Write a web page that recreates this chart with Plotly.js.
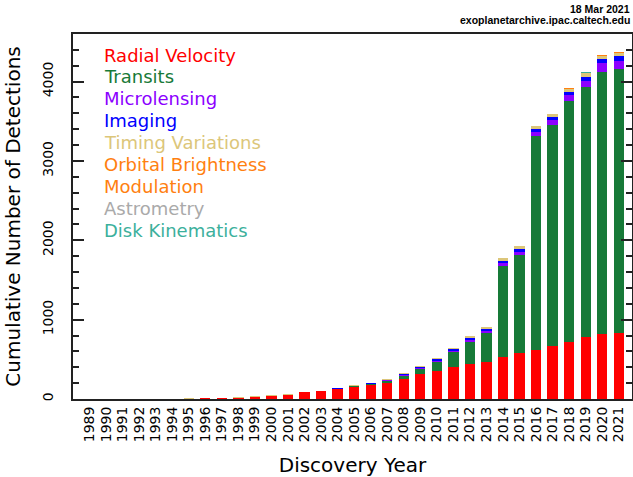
<!DOCTYPE html>
<html>
<head>
<meta charset="utf-8">
<script src="https://cdn.plot.ly/plotly-3.0.1.min.js"></script>
<style>
  html, body { margin: 0; padding: 0; background: #ffffff; }
  #chart { width: 633px; height: 477px; }
</style>
</head>
<body>
<div id="chart"></div>
<script>
// Discovery years (x categories)
const years = [1989,1990,1991,1992,1993,1994,1995,1996,1997,1998,1999,2000,2001,2002,2003,2004,2005,2006,2007,2008,2009,2010,2011,2012,2013,2014,2015,2016,2017,2018,2019,2020,2021];
const yearLabels = years.map(String);

// Cumulative number of detections by method
const radialVelocity = [1,1,1,1,1,1,3,9,10,17,29,42,55,84,100,122,148,173,206,248,319,357,404,445,470,526,576,618,668,715,778,823,828];
const transits       = [0,0,0,0,0,0,0,0,0,0,0,0,0,1,1,6,10,15,21,42,59,110,189,274,362,1155,1244,2702,2791,3037,3148,3304,3330];
const microlensing   = [0,0,0,0,0,0,0,0,0,0,0,0,0,0,1,3,5,7,8,11,12,14,16,20,22,28,30,43,55,73,88,106,108];
const imaging        = [0,0,0,0,0,0,0,0,0,0,0,0,0,0,0,3,5,6,10,15,16,20,22,30,30,35,42,42,42,44,50,50,51];
const timingVar      = [0,0,0,2,3,4,4,4,4,4,4,4,4,4,4,5,5,5,7,8,10,12,15,22,24,34,37,37,38,42,43,45,45];
const orbitalBright  = [0,0,0,0,0,0,0,0,0,0,0,0,0,0,0,0,0,0,0,0,0,0,1,2,3,3,3,3,3,6,6,8,8];
const astrometry     = [0,0,0,0,0,0,0,0,0,0,0,0,0,0,0,0,0,0,0,0,0,0,0,0,1,1,1,1,1,1,1,1,1];
const diskKinematics = [0,0,0,0,0,0,0,0,0,0,0,0,0,0,0,0,0,0,0,0,0,0,0,0,0,0,0,0,0,0,1,1,1];

// Legend labels
const methodNames = ["Radial Velocity","Transits","Microlensing","Imaging","Timing Variations","Orbital Brightness Modulation","Astrometry","Disk Kinematics"];
const legendLines = ["Radial Velocity","Transits","Microlensing","Imaging","Timing Variations","Orbital Brightness","Modulation","Astrometry","Disk Kinematics"];

const colors = {
  "Radial Velocity": "#ff0000",
  "Transits": "#177a38",
  "Microlensing": "#8c00ff",
  "Imaging": "#0000ff",
  "Timing Variations": "#dcc67a",
  "Orbital Brightness Modulation": "#ff8010",
  "Astrometry": "#aaaaaa",
  "Disk Kinematics": "#3cb09c"
};
const lineColors = ["#ff0000","#177a38","#8c00ff","#0000ff","#dcc67a","#ff8010","#ff8010","#aaaaaa","#3cb09c"];

const seriesData = [radialVelocity, transits, microlensing, imaging, timingVar, orbitalBright, astrometry, diskKinematics];

const traces = methodNames.map((name, i) => ({
  type: "bar",
  name: name,
  x: years,
  y: seriesData[i],
  width: 0.62,
  marker: { color: colors[name], line: { width: 0 } },
  showlegend: false
}));

const FONT = "DejaVu Sans, Liberation Sans, sans-serif";

// Legend drawn as coloured text lines
const plotTop = 34, plotBottom = 399;
const legendY0 = 55, legendStep = 21.9;
const annotations = legendLines.map((t, i) => ({
  xref: "paper", yref: "paper",
  x: 29 / 559, xanchor: "left",
  y: (plotBottom - (legendY0 + i * legendStep)) / (plotBottom - plotTop), yanchor: "middle",
  text: t, showarrow: false,
  font: { family: FONT, size: 18, color: lineColors[i] }
}));

annotations.push({
  xref: "paper", yref: "paper", x: 1, xanchor: "right", xshift: 0,
  y: (plotBottom - 9) / (plotBottom - plotTop), yanchor: "middle",
  text: "18 Mar 2021", showarrow: false,
  font: { family: "Liberation Sans, Arial, sans-serif", size: 10.5, color: "#000", weight: "bold" }
});
annotations.push({
  xref: "paper", yref: "paper", x: 1, xanchor: "right", xshift: 0,
  y: (plotBottom - 20) / (plotBottom - plotTop), yanchor: "middle",
  text: "exoplanetarchive.ipac.caltech.edu", showarrow: false,
  font: { family: "Liberation Sans, Arial, sans-serif", size: 10.5, color: "#000", weight: "bold" }
});

const layout = {
  width: 633, height: 477,
  margin: { l: 73, r: 1, t: 34, b: 78, pad: 0 },
  paper_bgcolor: "#ffffff", plot_bgcolor: "#ffffff",
  barmode: "stack",
  bargap: 0,
  showlegend: false,
  font: { family: FONT, color: "#000" },
  xaxis: {
    range: [1988, 2021.8],
    tickmode: "array", tickvals: years, ticktext: yearLabels,
    tickangle: -90,
    ticks: "",
    tickfont: { family: FONT, size: 14, color: "#000" },
    showline: true, linecolor: "#222", linewidth: 2, mirror: true,
    showgrid: false, zeroline: false,
    title: { text: "Discovery Year", font: { family: FONT, size: 20, color: "#000" }, standoff: 20 },
    automargin: false
  },
  yaxis: {
    range: [0, 4600],
    tickmode: "linear", tick0: 0, dtick: 1000,
    ticks: "inside", ticklen: 11, tickwidth: 2, tickcolor: "#222",
    minor: { dtick: 200, ticks: "inside", ticklen: 6, tickwidth: 2, tickcolor: "#222", showgrid: false },
    tickangle: -90,
    ticklabelstandoff: 12,
    tickfont: { family: FONT, size: 14, color: "#000" },
    showline: true, linecolor: "#222", linewidth: 2, mirror: "ticks",
    showgrid: false, zeroline: false,
    title: { text: "Cumulative Number of Detections", font: { family: FONT, size: 20, color: "#000" }, standoff: 14 },
    automargin: false
  },
  annotations: annotations
};

Plotly.newPlot("chart", traces, layout, { staticPlot: true, displayModeBar: false });
</script>
</body>
</html>
